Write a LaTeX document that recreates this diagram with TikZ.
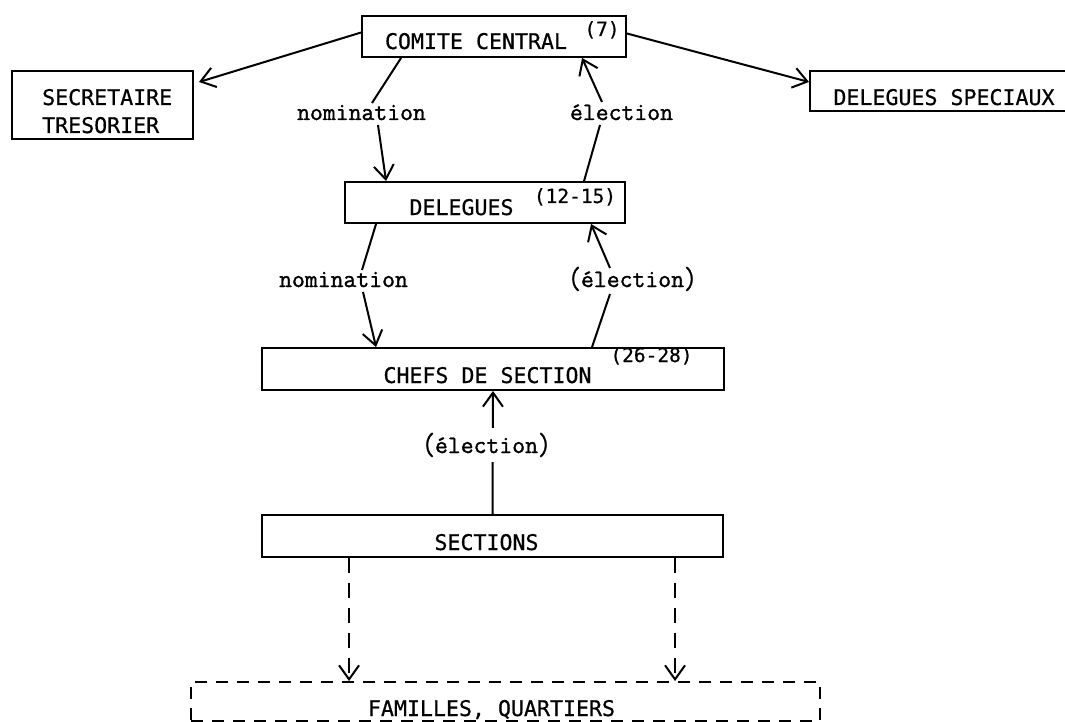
\documentclass[tikz,border=0pt]{standalone}
\usepackage{fontspec}
\usepackage{graphicx}
\newfontfamily\capsf[FakeBold=0.6]{DejaVu Sans Mono}
\newfontfamily\labf[FakeBold=1.4]{Latin Modern Mono}
\usetikzlibrary{arrows.meta,calc}
\newcommand\bpar[1]{\raisebox{-1.5pt}{\scalebox{1}[1.25]{#1}}}
\begin{document}
\begin{tikzpicture}[x=1pt,y=-1pt,
  box/.style={draw,line width=1.9pt,inner sep=0pt},
  dbox/.style={box,dash pattern=on 12pt off 9pt},
  capt/.style={inner sep=0pt,font=\capsf\fontsize{21.6}{24}\selectfont},
  supt/.style={inner sep=0pt,font=\capsf\fontsize{19.5}{22}\selectfont},
  lab/.style={inner sep=0pt,font=\labf\fontsize{25}{27}\selectfont},
  ln/.style={line width=2pt},
  arr/.style={ln,-{Straight Barb[length=14pt,width=20pt,line width=2pt]}},
  darr/.style={arr,dash pattern=on 15pt off 10pt}]
\useasboundingbox (0,0) rectangle (1065,722);
\fill[white] (0,0) rectangle (1065,722);
% boxes
\node[box,minimum width=264pt,minimum height=41pt] (cc) at (494,36.5) {};
\node[box,minimum width=181pt,minimum height=68pt] (sec) at (102.5,105) {};
\node[box,minimum width=258pt,minimum height=40pt] (ds) at (939,91) {};
\node[box,minimum width=280pt,minimum height=41pt] (del) at (485,202.5) {};
\node[box,minimum width=462pt,minimum height=42pt] (chefs) at (493,369) {};
\node[box,minimum width=461pt,minimum height=42pt] (secs) at (492.5,536) {};
\node[dbox,minimum width=629pt,minimum height=39pt] (fam) at (505.5,701.5) {};
% texts
\node[capt,anchor=base] (cct) at (476,49) {COMITE CENTRAL};
\node[supt,anchor=base] (cc7) at (602,36) {(7)};
\node[capt,anchor=base west] (sect1) at (42,105) {SECRETAIRE};
\node[capt,anchor=base west] (sect2) at (42,133) {TRESORIER};
\node[capt,anchor=base] (dst) at (944,105) {DELEGUES SPECIAUX};
\node[capt,anchor=base] (delt) at (461.5,215) {DELEGUES};
\node[supt,anchor=base] (del15) at (575,203) {(12-15)};
\node[capt,anchor=base] (cht) at (487.5,383) {CHEFS DE SECTION};
\node[supt,anchor=base] (ch28) at (651.5,362) {(26-28)};
\node[capt,anchor=base] (secst) at (486.5,550) {SECTIONS};
\node[capt,anchor=base] (famt) at (491.5,716) {FAMILLES, QUARTIERS};
% connectors
\draw[arr] ($(cc.west)+(0,-4)$) -- ($(sec.north east)+(5,12)$);
\draw[arr] ($(cc.east)+(0,-3)$) -- ($(ds.west)+(0,-9)$);
\coordinate (n1a) at (372,103);
\coordinate (n1b) at (378,125);
\draw[ln] ($(cc.south west)+(40,0)$) -- (n1a);
\draw[arr] (n1b) -- ($(del.north west)+(42,0)$);
\coordinate (e1a) at (602,102);
\coordinate (e1b) at (600,125);
\draw[ln] ($(del.north west)+(240,0)$) -- (e1b);
\draw[arr] (e1a) -- ($(cc.south west)+(221,0)$);
\coordinate (n2a) at (362,270);
\coordinate (n2b) at (363,292);
\draw[ln] ($(del.south west)+(32,0)$) -- (n2a);
\draw[arr] (n2b) -- ($(chefs.north west)+(115,0)$);
\coordinate (e2a) at (610,268);
\coordinate (e2b) at (610,294);
\draw[ln] ($(chefs.north west)+(331,0)$) -- (e2b);
\draw[arr] (e2a) -- ($(del.south west)+(247,0)$);
\draw[arr] (secs.north) -- (chefs.south);
\draw[darr] ($(secs.south west)+(88,0)$) -- ($(fam.north west)+(159,0)$);
\draw[darr] ($(secs.south west)+(414,0)$) -- ($(fam.north west)+(485,0)$);
% labels
\node[lab,anchor=base] (nom1) at (361.5,120) {nomination};
\node[lab,anchor=base] (el1) at (621.5,120) {élection};
\node[lab,anchor=base] (nom2) at (343.5,287) {nomination};
\node[lab,anchor=base] (el2) at (632.5,287) {\bpar(élection\bpar)};
\node[lab,anchor=base,fill=white,inner ysep=5pt] (el3) at (486.5,453) {\bpar(élection\bpar)};
\end{tikzpicture}
\end{document}
